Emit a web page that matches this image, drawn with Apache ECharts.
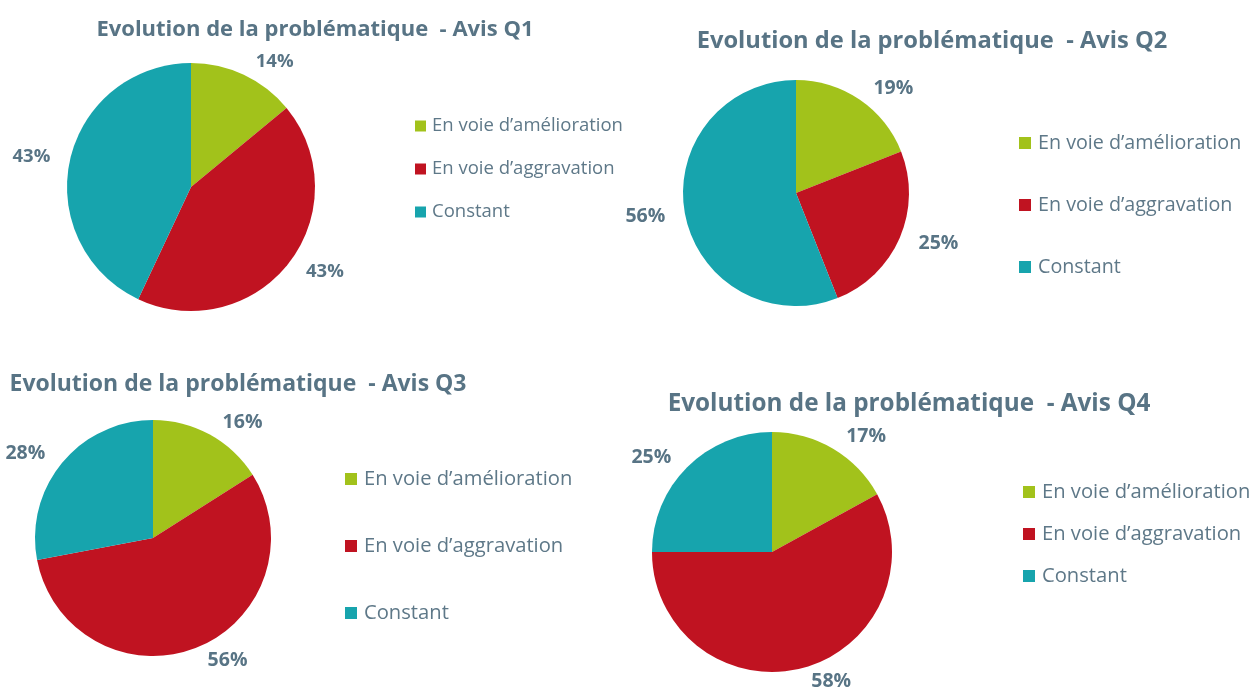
<!DOCTYPE html>
<html>
<head>
<meta charset="utf-8">
<script src="https://cdn.jsdelivr.net/npm/echarts@6/dist/echarts.min.js"></script>
<style>html,body{margin:0;padding:0;background:#fff}#c{width:1252px;height:700px}</style>
</head>
<body>
<div id="c"></div>
<script>
const categories = ["En voie d’amélioration", "En voie d’aggravation", "Constant"];
const titles = [
  "Evolution de la problématique  - Avis Q1",
  "Evolution de la problématique  - Avis Q2",
  "Evolution de la problématique  - Avis Q3",
  "Evolution de la problématique  - Avis Q4"
];
const valuesQ1 = [14, 43, 43];
const valuesQ2 = [19, 25, 56];
const valuesQ3 = [16, 56, 28];
const valuesQ4 = [17, 58, 25];
const colors = ["#A2C21B", "#C01321", "#17A4AD"];

const FONT = "'Open Sans', 'Noto Sans', sans-serif";
const TEXT = "#587485";
const LEG = "#5E7888";

const panels = [
  {values: valuesQ1, center: [191, 187], r: 124, tx: 310, ty: 14, tsize: 22, lx: 415, ly: 116, lgap: 23, lsize: 18.5, lblSize: 18.5, icon: 11, tpad: 1},
  {values: valuesQ2, center: [796, 193], r: 113, tx: 927, ty: 24, tsize: 23.7, lx: 1019, ly: 133, lgap: 42, lsize: 19.7, lblSize: 19.5, icon: 12, tpad: 2},
  {values: valuesQ3, center: [153, 538], r: 118, tx: 233, ty: 368, tsize: 23, lx: 345, ly: 469, lgap: 47, lsize: 20.2, lblSize: 19.5, icon: 12, tpad: 2},
  {values: valuesQ4, center: [772, 552], r: 120, tx: 904, ty: 387, tsize: 24.3, lx: 1023, ly: 482, lgap: 22, lsize: 20.2, lblSize: 19.5, icon: 12, tpad: 2}
];

const option = {
  backgroundColor: "#fff",
  color: colors,
  animation: false,
  title: panels.map((p, i) => ({
    text: titles[i],
    left: p.tx, top: p.ty, textAlign: "center",
    textStyle: {fontFamily: FONT, fontWeight: "bold", fontSize: p.tsize, color: TEXT}
  })),
  legend: panels.map(p => ({
    data: categories,
    orient: "vertical",
    left: p.lx, top: p.ly,
    padding: 0,
    itemWidth: p.icon, itemHeight: p.icon, itemGap: p.lgap,
    icon: "rect",
    selectedMode: false,
    textStyle: {fontFamily: FONT, fontSize: p.lsize, lineHeight: 20, color: LEG, padding: [0, 0, 0, p.tpad]}
  })),
  series: panels.map(p => ({
    type: "pie",
    center: p.center,
    radius: p.r,
    startAngle: 90,
    clockwise: true,
    avoidLabelOverlap: false,
    silent: true,
    data: categories.map((c, j) => ({name: c, value: p.values[j]})),
    label: {
      show: true, position: "outside",
      formatter: "{c}%",
      fontFamily: FONT, fontWeight: "bold", fontSize: p.lblSize, color: TEXT
    },
    labelLine: {show: false, length: 14, length2: 1},
    itemStyle: {borderWidth: 0}
  }))
};
const chart = echarts.init(document.getElementById("c"), null, {renderer: "canvas"});
chart.setOption(option);
</script>
</body>
</html>
